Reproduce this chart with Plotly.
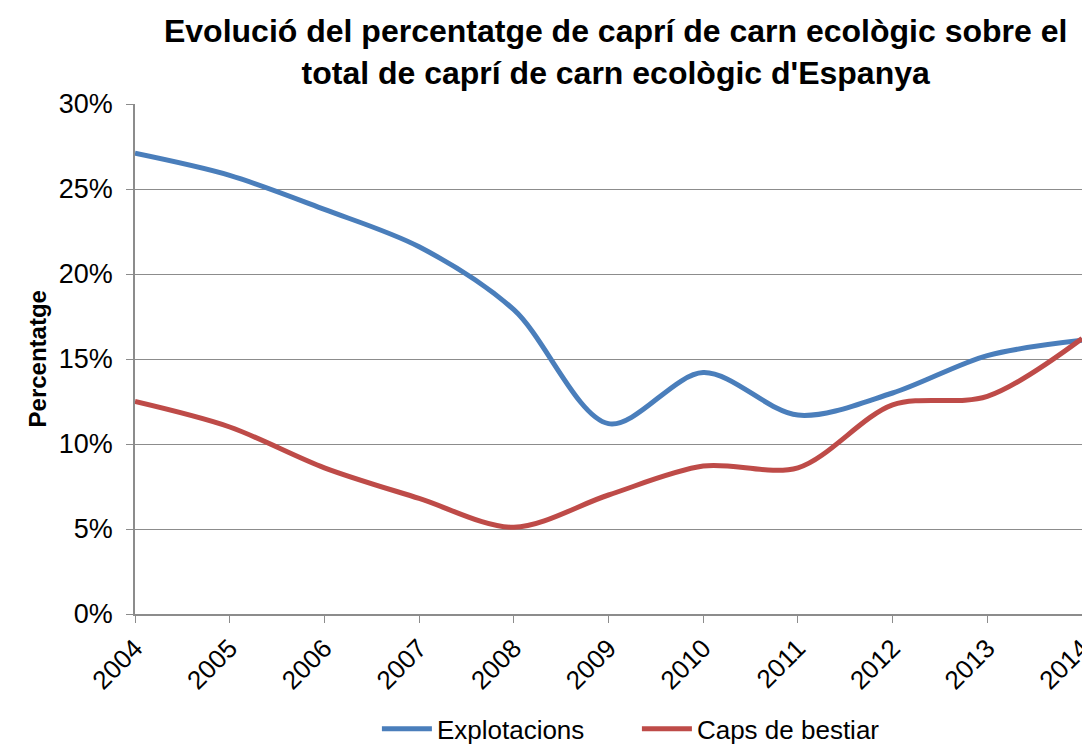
import plotly.graph_objects as go

# Data: share (%) of Catalonia's organic meat-goat sector over Spain's total
years = [2004, 2005, 2006, 2007, 2008, 2009, 2010, 2011, 2012, 2013, 2014]
explotacions = [27.1, 25.8, 23.8, 21.6, 17.9, 11.2, 14.2, 11.7, 13.0, 15.2, 16.1]
caps_bestiar = [12.5, 11.0, 8.6, 6.8, 5.1, 7.0, 8.7, 8.6, 12.3, 12.8, 16.2]
y_ticks = [0, 5, 10, 15, 20, 25, 30]
y_tick_labels = ["0%", "5%", "10%", "15%", "20%", "25%", "30%"]

FONT = "Liberation Sans, Arial, sans-serif"
GRID = "#8c8c8c"

fig = go.Figure()
fig.add_trace(go.Scatter(
    x=years, y=explotacions, name="Explotacions", mode="lines",
    line=dict(color="#4A7EBB", width=5, shape="spline", smoothing=0.9),
))
fig.add_trace(go.Scatter(
    x=years, y=caps_bestiar, name="Caps de bestiar", mode="lines",
    line=dict(color="#BE4B48", width=5, shape="spline", smoothing=0.9),
))

fig.update_layout(
    width=1082, height=744,
    margin=dict(l=135, r=0, t=104, b=130, autoexpand=False),
    paper_bgcolor="white", plot_bgcolor="white",
    font=dict(family=FONT, size=26, color="black"),
    title=dict(
        text="<b>Evolució del percentatge de caprí de carn ecològic sobre el<br>total de caprí de carn ecològic d'Espanya</b>",
        x=0.569, xanchor="center", y=0.9435, yanchor="middle",
        font=dict(family=FONT, size=32, color="black"),
    ),
    xaxis=dict(
        range=[2004, 2014], tickmode="array", tickvals=years,
        ticktext=[str(y) for y in years], tickangle=-45,
        showgrid=False, showline=True, linecolor=GRID, linewidth=1.5,
        ticks="outside", ticklen=7, tickcolor=GRID,
        tickfont=dict(size=26), zeroline=False,
        automargin=False, ticklabeloverflow="allow",
    ),
    yaxis=dict(
        range=[0, 30], tickmode="array", tickvals=y_ticks, ticktext=y_tick_labels,
        showgrid=True, gridcolor=GRID, gridwidth=1.2,
        showline=True, linecolor=GRID, linewidth=1.5,
        ticks="outside", ticklen=7, tickcolor=GRID,
        tickfont=dict(size=27), zeroline=False,
        automargin=False, ticklabelstandoff=8,
    ),
    legend=dict(
        orientation="h", x=0.530, xanchor="center", y=-0.225, yanchor="middle",
        font=dict(size=26), itemwidth=50, tracegroupgap=0,
        entrywidth=195, entrywidthmode="pixels",
    ),
    annotations=[dict(
        text="<b>Percentatge</b>", xref="paper", yref="paper",
        x=-0.103, y=0.5, xanchor="center", yanchor="middle",
        textangle=-90, showarrow=False, font=dict(family=FONT, size=24),
    )],
)

fig.write_html("out.html")
